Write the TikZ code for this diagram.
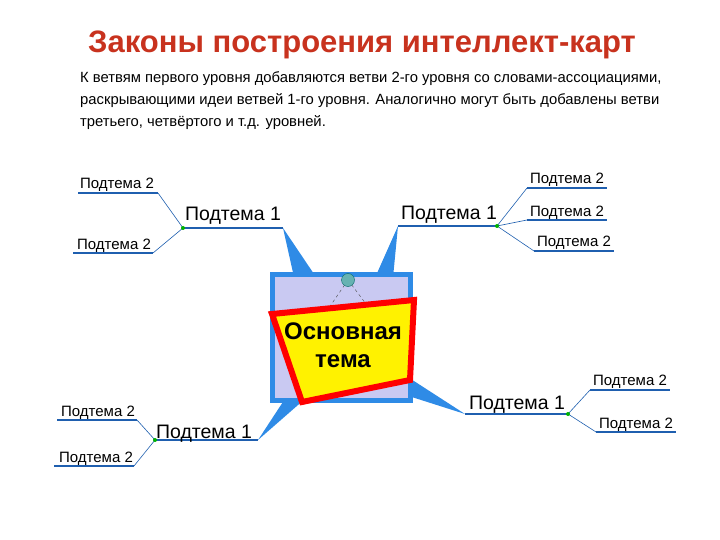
\documentclass[tikz,border=0pt]{standalone}
\usepackage{fontspec}
\setmainfont{Liberation Sans}
\begin{document}
\begin{tikzpicture}[x=1pt,y=-1pt,
  spike/.style={fill=spikeblue,draw=none},
  tline/.style={draw=lineblue,line width=1.6pt},
  sline/.style={draw=lineblue,line width=0.6pt},
  t1/.style={font=\fontsize{19.5}{19.5}\selectfont,anchor=base,inner sep=0pt},
  t2/.style={font=\fontsize{15}{15}\selectfont,anchor=base,inner sep=0pt},
  jdot/.style={circle,fill=green!70!black,inner sep=0pt,minimum size=4pt}]
\definecolor{spikeblue}{HTML}{2F8BE6}
\definecolor{lineblue}{HTML}{1F5FAF}
\definecolor{titlered}{HTML}{C8321E}
\definecolor{lav}{HTML}{C9C9F2}
\useasboundingbox (0,0) rectangle (720,540);
\node[font=\bfseries\fontsize{31}{31}\selectfont,text=titlered] (title) at (362,45) {Законы построения интеллект-карт};
\node[anchor=north west,align=left,font=\fontsize{14.8}{22}\selectfont,inner sep=0pt] (para) at (80,71)
 {К ветвям первого уровня добавляются ветви 2-го уровня со словами-ассоциациями,\\
  раскрывающими идеи ветвей 1-го уровня. Аналогично могут быть добавлены ветви\\
  третьего, четвёртого и т.д. уровней.};
% spikes
\fill[spike] (283,228) -- (296,286) -- (318,280) -- cycle;
\fill[spike] (398,226) -- (374,280) -- (392,288) -- cycle;
\fill[spike] (465,414) -- (400,372) -- (396,392) -- cycle;
\fill[spike] (258,440) -- (296,382) -- (306,398) -- cycle;
% central
\draw[draw=spikeblue,fill=lav,line width=5pt] (272,274) rectangle (410,400);
\draw[dashed,black!70] (348,280) -- (322,318) (348,280) -- (372,312);
\node[circle,fill=teal!60,draw=teal!80!black,minimum size=13pt,inner sep=0pt] (pin) at (348,280) {};
\draw[fill=yellow,draw=red,line width=6pt,line join=miter] (272,314) -- (414,300) -- (410,380) -- (302,402) -- cycle;
\node[font=\bfseries\fontsize{24}{28}\selectfont,align=center] (main) at (343,345) {Основная\\тема};
% TL
\coordinate (j1) at (183,228); \coordinate (e1) at (283,228);
\draw[tline] (j1) -- (e1);
\node[t1] (a1) at (233,221) {Подтема 1};
\coordinate (p1) at (158,193); \coordinate (q1) at (78,193);
\coordinate (p2) at (153,253); \coordinate (q2) at (73,253);
\draw[tline] (q1) -- (p1); \draw[tline] (q2) -- (p2);
\draw[sline] (p1) -- (j1) -- (p2);
\node[t2] (a11) at (117,189) {Подтема 2};
\node[t2] (a12) at (114,249) {Подтема 2};
\node[jdot] (d1) at (j1) {};
% TR
\coordinate (j2) at (497,226); \coordinate (e2) at (398,226);
\draw[tline] (e2) -- (j2);
\node[t1] (b1) at (449,219) {Подтема 1};
\coordinate (p3) at (527,188); \coordinate (q3) at (607,188);
\coordinate (p4) at (527,220); \coordinate (q4) at (607,220);
\coordinate (p5) at (534,251); \coordinate (q5) at (614,251);
\draw[tline] (p3) -- (q3); \draw[tline] (p4) -- (q4); \draw[tline] (p5) -- (q5);
\draw[sline] (p3) -- (j2) -- (p4) (j2) -- (p5);
\node[t2] (b11) at (567,184) {Подтема 2};
\node[t2] (b12) at (567,217) {Подтема 2};
\node[t2] (b13) at (574,247) {Подтема 2};
\node[jdot] (d2) at (j2) {};
% BR
\coordinate (j3) at (568,414); \coordinate (e3) at (465,414);
\draw[tline] (e3) -- (j3);
\node[t1] (c1) at (517,409) {Подтема 1};
\coordinate (p6) at (590,390); \coordinate (q6) at (670,390);
\coordinate (p7) at (596,432); \coordinate (q7) at (676,432);
\draw[tline] (p6) -- (q6); \draw[tline] (p7) -- (q7);
\draw[sline] (p6) -- (j3) -- (p7);
\node[t2] (c11) at (630,385) {Подтема 2};
\node[t2] (c12) at (636,428) {Подтема 2};
\node[jdot] (d3) at (j3) {};
% BL
\coordinate (j4) at (155,440); \coordinate (e4) at (258,440);
\draw[tline] (j4) -- (e4);
\node[t1] (g1) at (204,438) {Подтема 1};
\coordinate (p8) at (137,420); \coordinate (q8) at (57,420);
\coordinate (p9) at (134,466); \coordinate (q9) at (54,466);
\draw[tline] (q8) -- (p8); \draw[tline] (q9) -- (p9);
\draw[sline] (p8) -- (j4) -- (p9);
\node[t2] (g11) at (98,416) {Подтема 2};
\node[t2] (g12) at (96,462) {Подтема 2};
\node[jdot] (d4) at (j4) {};
\end{tikzpicture}
\end{document}
